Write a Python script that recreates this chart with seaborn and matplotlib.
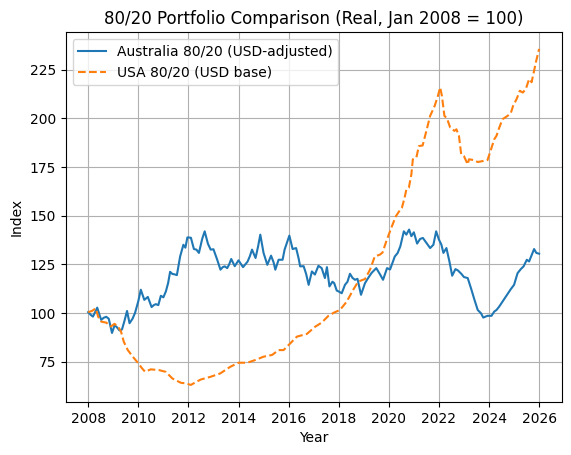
import matplotlib
matplotlib.use("Agg")
import matplotlib.pyplot as plt
from matplotlib.ticker import MultipleLocator, FormatStrFormatter
import seaborn as sns

aus_years = [2008.00, 2008.10, 2008.19, 2008.28, 2008.36, 2008.45, 2008.52, 2008.62, 2008.72, 2008.82,
             2008.95, 2009.05, 2009.12, 2009.25, 2009.35, 2009.45, 2009.55, 2009.65, 2009.77, 2009.87,
             2010.00, 2010.10, 2010.24, 2010.38, 2010.53, 2010.62, 2010.70, 2010.80, 2010.90, 2011.00,
             2011.10, 2011.19, 2011.27, 2011.36, 2011.45, 2011.54, 2011.67, 2011.80, 2011.88, 2011.96,
             2012.10, 2012.22, 2012.32, 2012.42, 2012.55, 2012.65, 2012.78, 2012.89, 2013.00, 2013.15,
             2013.28, 2013.37, 2013.45, 2013.55, 2013.63, 2013.71, 2013.85, 2014.00, 2014.10, 2014.18,
             2014.36, 2014.45, 2014.54, 2014.68, 2014.78, 2014.87, 2015.00, 2015.15, 2015.30, 2015.40,
             2015.47, 2015.60, 2015.76, 2015.84, 2016.03, 2016.16, 2016.30, 2016.40, 2016.46, 2016.60,
             2016.70, 2016.80, 2016.93, 2017.05, 2017.19, 2017.32, 2017.45, 2017.53, 2017.63, 2017.75,
             2017.82, 2017.92, 2018.00, 2018.12, 2018.25, 2018.35, 2018.45, 2018.55, 2018.65, 2018.75,
             2018.89, 2019.05, 2019.18, 2019.31, 2019.44, 2019.50, 2019.64, 2019.77, 2019.93, 2020.05,
             2020.24, 2020.35, 2020.46, 2020.60, 2020.70, 2020.81, 2020.90, 2021.00, 2021.13, 2021.25,
             2021.36, 2021.50, 2021.65, 2021.78, 2021.89, 2022.00, 2022.10, 2022.18, 2022.30, 2022.42,
             2022.53, 2022.66, 2022.76, 2022.90, 2023.00, 2023.15, 2023.28, 2023.42, 2023.55, 2023.68,
             2023.77, 2023.94, 2024.10, 2024.21, 2024.30, 2024.41, 2024.54, 2024.67, 2024.87, 2025.00,
             2025.14, 2025.27, 2025.38, 2025.51, 2025.60, 2025.71, 2025.80, 2025.89, 2026.00]
aus_index = [100.4, 99.0, 98.1, 100.5, 102.7, 99.0, 96.4, 97.5, 98.0, 97.0,
             89.7, 93.5, 93.0, 91.0, 91.5, 96.0, 101.0, 94.7, 97.0, 100.0,
             106.0, 111.9, 106.7, 108.2, 103.0, 104.0, 104.5, 104.0, 108.8, 108.0,
             111.0, 115.3, 121.1, 120.0, 119.8, 119.4, 129.0, 135.0, 133.5, 138.8,
             138.6, 132.8, 132.5, 130.8, 138.0, 141.9, 135.5, 132.5, 132.7, 127.3,
             122.2, 123.5, 123.9, 123.0, 125.0, 127.7, 124.0, 127.0, 125.0, 123.5,
             126.3, 129.0, 132.5, 128.2, 134.0, 140.2, 130.8, 124.7, 129.4, 126.0,
             122.2, 127.3, 127.3, 132.5, 139.7, 132.8, 133.3, 128.0, 123.9, 124.0,
             120.0, 114.4, 121.3, 119.7, 124.2, 123.0, 117.9, 123.5, 113.6, 116.0,
             115.3, 111.5, 111.0, 110.1, 114.4, 116.0, 120.1, 118.0, 117.0, 117.5,
             109.3, 115.3, 118.0, 120.5, 122.2, 123.0, 120.0, 117.0, 123.0, 122.3,
             129.0, 130.7, 134.2, 141.9, 140.2, 142.8, 139.4, 141.4, 135.6, 138.0,
             138.5, 136.0, 133.3, 135.0, 141.9, 137.7, 135.0, 130.8, 133.3, 126.4,
             119.1, 122.5, 121.8, 120.0, 118.4, 117.9, 112.7, 106.7, 101.5, 99.8,
             97.6, 98.5, 98.5, 100.7, 101.5, 103.3, 105.8, 108.4, 112.2, 114.4,
             120.4, 122.5, 123.9, 127.3, 126.4, 129.9, 132.8, 130.8, 130.4]

usa_years = [2008.00, 2008.15, 2008.30, 2008.40, 2008.52, 2008.72, 2008.91, 2009.05, 2009.20, 2009.31,
             2009.42, 2009.58, 2009.78, 2010.00, 2010.15, 2010.27, 2010.50, 2010.83, 2011.10, 2011.36,
             2011.70, 2011.90, 2012.10, 2012.30, 2012.50, 2012.89, 2013.27, 2013.67, 2014.00, 2014.35,
             2014.67, 2015.00, 2015.34, 2015.60, 2015.80, 2016.07, 2016.33, 2016.73, 2017.06, 2017.32,
             2017.59, 2017.82, 2018.05, 2018.32, 2018.58, 2018.78, 2019.05, 2019.25, 2019.44, 2019.64,
             2019.75, 2019.90, 2020.10, 2020.28, 2020.44, 2020.52, 2020.63, 2020.70, 2020.80, 2020.90,
             2020.96, 2021.10, 2021.20, 2021.35, 2021.50, 2021.65, 2021.83, 2021.96, 2022.05, 2022.12,
             2022.22, 2022.32, 2022.45, 2022.62, 2022.70, 2022.80, 2022.89, 2023.00, 2023.15, 2023.20,
             2023.40, 2023.55, 2023.75, 2023.94, 2024.08, 2024.21, 2024.30, 2024.41, 2024.54, 2024.74,
             2024.87, 2024.96, 2025.10, 2025.23, 2025.35, 2025.47, 2025.60, 2025.70, 2025.80, 2025.87,
             2026.00]
usa_index = [100.4, 101.0, 102.3, 98.0, 95.5, 95.0, 93.0, 94.4, 92.8, 90.4,
             85.2, 80.9, 77.5, 74.1, 71.5, 69.8, 71.0, 70.6, 69.7, 66.3,
             64.1, 63.8, 63.0, 64.5, 65.8, 67.2, 68.9, 72.3, 74.4, 74.4,
             75.8, 77.5, 78.4, 80.9, 80.9, 84.4, 87.8, 89.2, 92.9, 95.0,
             98.5, 100.2, 101.5, 105.8, 111.9, 116.1, 117.4, 122.2, 129.0, 129.9,
             131.0, 136.8, 143.7, 149.6, 152.7, 153.9, 159.1, 163.4, 164.3, 171.1,
             178.9, 179.8, 185.7, 186.0, 193.5, 201.2, 206.3, 211.5, 215.8, 211.5,
             201.2, 200.0, 195.2, 193.5, 194.3, 190.9, 181.4, 180.5, 176.3, 178.9,
             178.5, 177.5, 178.0, 178.5, 184.0, 189.2, 191.0, 195.2, 199.5, 201.2,
             202.6, 206.3, 209.8, 214.1, 213.2, 215.0, 220.1, 218.5, 224.4, 228.7,
             235.6]

aus_label = "Australia 80/20 (USD-adjusted)"
usa_label = "USA 80/20 (USD base)"

fig, ax = plt.subplots(figsize=(6.4, 4.8), dpi=100)
sns.lineplot(x=aus_years, y=aus_index, ax=ax, color="C0", label=aus_label, estimator=None)
sns.lineplot(x=usa_years, y=usa_index, ax=ax, color="C1", linestyle="--", label=usa_label, estimator=None)
ax.xaxis.set_major_locator(MultipleLocator(2))
ax.xaxis.set_major_formatter(FormatStrFormatter("%d"))
ax.set_title("80/20 Portfolio Comparison (Real, Jan 2008 = 100)")
ax.set_xlabel("Year")
ax.set_ylabel("Index")
ax.grid(True)
ax.legend(loc="upper left")
fig.savefig("out.png", bbox_inches="tight")
